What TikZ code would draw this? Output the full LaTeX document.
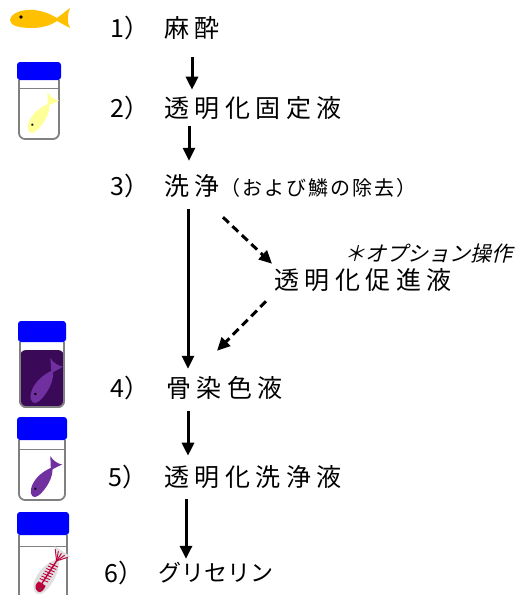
\documentclass[tikz,border=0pt]{standalone}
\usepackage{fontspec}
\newfontfamily\jpfont[LetterSpace=22]{Noto Sans CJK JP}
\newfontfamily\jpplain{Noto Sans CJK JP}
\newfontfamily\jpsmall[LetterSpace=10]{Noto Sans CJK JP}
\newfontfamily\jpslant[FakeSlant=0.25]{Noto Sans CJK JP}
\usetikzlibrary{arrows.meta}
\usetikzlibrary{positioning}

\definecolor{fishorange}{RGB}{255,192,0}
\definecolor{capblue}{RGB}{0,0,255}
\definecolor{vialgray}{RGB}{128,128,128}
\definecolor{paleyellow}{RGB}{255,255,153}
\definecolor{stainpurple}{RGB}{112,48,160}
\definecolor{stainliquid}{RGB}{58,10,88}
\definecolor{bone}{RGB}{190,0,60}

\begin{document}
\begin{tikzpicture}[x=1pt, y=-1pt,
	flow/.style={line width=3pt, -{Triangle[length=13pt, width=12pt]}},
	option/.style={flow, dash pattern=on 8pt off 5pt},
	num/.style={anchor=west, inner sep=0pt, font=\jpplain\fontsize{25}{30}\selectfont},
	label/.style={anchor=west, inner sep=0pt, font=\jpfont\fontsize{25}{30}\selectfont},
	vialline/.style={draw=vialgray, line width=1.8pt},
	fish/.pic={
		\fill[pic actions] (0,1) .. controls (1,-6) and (12,-10) .. (24,-9)
			.. controls (34,-8) and (42,-4) .. (47,-1) -- (60,-11)
			.. controls (57,-4) and (57,4) .. (60,9) -- (47,2)
			.. controls (40,7) and (30,9) .. (22,9)
			.. controls (10,9) and (0,7) .. (0,1) -- cycle;
		\fill[black] (11,-2) circle (1.8);
	},
	skeleton/.pic={
		\fill[gray!25] (-3,1) .. controls (-2,-9) and (12,-12) .. (24,-11)
			.. controls (36,-10) and (44,-5) .. (49,-2) -- (63,-13)
			-- (63,12) -- (49,3)
			.. controls (40,9) and (30,11) .. (22,11)
			.. controls (8,11) and (-3,9) .. (-3,1) -- cycle;
		\foreach \x in {16,20,...,40}
			\draw[bone, line width=0.9pt] (\x,-6) -- (\x+2,6);
		\draw[bone, line width=1.4pt] (8,0) -- (50,0);
		\foreach \a in {-10,-5,0,5,10}
			\draw[bone, line width=0.9pt] (48,0) -- (60,\a);
		\fill[bone] (0,1) .. controls (1,-6) and (8,-7) .. (12,-5)
			-- (12,6) .. controls (6,7) and (0,6) .. (0,1) -- cycle;
		\fill[black!70] (5,2) circle (1.8);
	}]
	\useasboundingbox (0,0) rectangle (521,595);

	% fish before anaesthesia
	\pic[fill=fishorange] at (10,19) {fish};

	% vial with fixative
	\begin{scope}[shift={(17,62)}]
		\draw[vialline, fill=white, rounded corners=6] (2,18) -- (2,77) -- (42,77) -- (42,18);
		\draw[vialgray, line width=0.8pt] (2,26) -- (42,26);
		\pic[fill=paleyellow, rotate=55, scale=0.72] at (12,70) {fish};
		\fill[capblue, rounded corners=3] (0,0) rectangle (44,18);
	\end{scope}

	% vial with bone stain
	\begin{scope}[shift={(18,321)}]
		\draw[vialline, fill=white, rounded corners=6] (2,21) -- (2,86) -- (46,86) -- (46,21);
		\fill[stainliquid, rounded corners=6] (2,29) -- (2,86) -- (46,86) -- (46,29) -- cycle;
		\draw[vialline, rounded corners=6] (2,21) -- (2,86) -- (46,86) -- (46,21);
		\pic[fill=stainpurple, rotate=57, scale=0.78] at (14,81) {fish};
		\fill[capblue, rounded corners=3] (0,0) rectangle (48,21);
	\end{scope}

	% vial with washing solution
	\begin{scope}[shift={(17,417)}]
		\draw[vialline, fill=white, rounded corners=6] (2,23) -- (2,83) -- (48,83) -- (48,23);
		\draw[vialgray, line width=0.8pt] (2,32) -- (48,32);
		\pic[fill=stainpurple, rotate=55, scale=0.72] at (15,79) {fish};
		\fill[capblue, rounded corners=3] (0,0) rectangle (50,23);
	\end{scope}

	% vial with glycerin
	\begin{scope}[shift={(17,512)}]
		\draw[vialline, fill=white, rounded corners=6] (2,23) -- (2,92) -- (50,92) -- (50,23);
		\draw[vialgray, line width=0.8pt] (2,34) -- (50,34);
		\pic[rotate=57, scale=0.75] at (20,79) {skeleton};
		\fill[capblue, rounded corners=3] (0,0) rectangle (52,23);
	\end{scope}

	% steps
	\node[num] (n1) at (110,28) {1）};
	\node[label] (s1) at (164,28) {麻酔};
	\node[num] (n2) at (110,108) {2）};
	\node[label] (s2) at (164,108) {透明化固定液};
	\node[num] (n3) at (110,186) {3）};
	\node[label] (s3) at (164,186) {洗浄};
	\node[anchor=west, inner sep=0pt, font=\jpsmall\fontsize{20}{24}\selectfont] (s3note) at (220,188) {（および鱗の除去）};
	\node[label] (opt) at (274,280) {透明化促進液};
	\node[anchor=west, inner sep=0pt, font=\jpslant\fontsize{21}{25}\selectfont] (optnote) at (344,254) {＊オプション操作};
	\node[num] (n4) at (110,388) {4）};
	\node[label] (s4) at (166,388) {骨染色液};
	\node[num] (n5) at (108,477) {5）};
	\node[label] (s5) at (164,477) {透明化洗浄液};
	\node[num] (n6) at (104,573) {6）};
	\node[anchor=west, inner sep=0pt, font=\jpplain\fontsize{23}{28}\selectfont] (s6) at (158,573) {グリセリン};

	% main flow
	\draw[flow] ([xshift=28pt, yshift=-17.5pt]s1.south west) -- ([xshift=28pt, yshift=6.5pt]s2.north west);
	\draw[flow] ([xshift=25pt, yshift=-6.5pt]s2.south west) -- ([xshift=25pt, yshift=13.5pt]s3.north west);
	\draw[flow] ([xshift=24pt, yshift=-11.5pt]s3.south west) -- ([xshift=22pt, yshift=7.5pt]s4.north west);
	\draw[flow] ([xshift=22pt, yshift=-11.5pt]s4.south west) -- ([xshift=24pt, yshift=9.5pt]s5.north west);
	\draw[flow] ([xshift=22pt, yshift=-10.5pt]s5.south west) -- ([xshift=28pt, yshift=3.5pt]s6.north west);

	% optional step
	\draw[option] ([xshift=59pt, yshift=-19.5pt]s3.south west) -- ([xshift=-2pt, yshift=4.5pt]opt.north west);
	\draw[option] ([xshift=-8pt, yshift=-9.5pt]opt.south west) -- ([xshift=51pt, yshift=25.5pt]s4.north west);
\end{tikzpicture}
\end{document}
